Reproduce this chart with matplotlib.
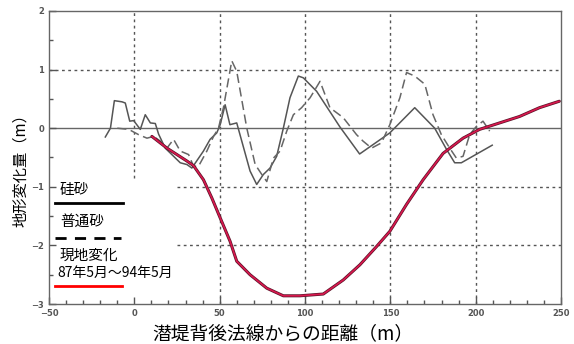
import matplotlib
matplotlib.use("Agg")
import matplotlib.pyplot as plt
from matplotlib.lines import Line2D

plt.rcParams['font.family'] = ['Noto Sans CJK JP', 'DejaVu Sans']

# 硅砂 (solid)
keisha_x = [-17, -14, -11.7, -7.2, -5.3, -2.7, -0.4, 3.5, 6.4, 9.4, 12.3, 14.2, 18.1, 26.9, 30.8, 33.7,
            40.5, 44.4, 48.3, 50.3, 53.2, 56, 60, 67.8, 71.7, 75.6, 79.5, 83.4, 87.3, 91.2, 96.1, 99,
            106.8, 120.5, 132, 149.7, 164.3, 176, 182.9, 187.7, 191.6, 209.7]
keisha_y = [-0.15, 0.0, 0.47, 0.45, 0.43, 0.12, 0.13, -0.02, 0.23, 0.09, 0.08, -0.1, -0.34, -0.59, -0.62, -0.68,
            -0.39, -0.19, -0.08, 0.06, 0.4, 0.06, 0.09, -0.73, -0.96, -0.79, -0.68, -0.48, 0.0, 0.52, 0.89, 0.86,
            0.63, 0.02, -0.44, -0.08, 0.35, 0.0, -0.36, -0.59, -0.59, -0.29]

# 普通砂 (dashed)
futsu_x = [-10, -3.3, 2.5, 7.4, 11.3, 15.2, 19.1, 23, 26.9, 31.8, 34.7, 37.6, 42.5, 46.4, 49.3, 52.2,
           57.1, 60, 65.9, 70.8, 74.7, 77.6, 81.5, 85.4, 89.3, 93.2, 98, 103, 108.8, 114.6, 122.4,
           130.2, 134, 139, 144.8, 149.7, 155.6, 159.5, 164.3, 170.2, 175, 179.9, 184.8, 188.7,
           192.6, 196.5, 200.4, 204.3, 208.2]
futsu_y = [0.0, -0.02, -0.11, -0.17, -0.14, -0.22, -0.34, -0.19, -0.39, -0.45, -0.65, -0.65, -0.39, -0.14, 0.0, 0.35,
           1.15, 0.97, 0.0, -0.62, -0.79, -0.91, -0.51, -0.39, -0.05, 0.23, 0.35, 0.52, 0.8, 0.35, 0.18,
           -0.11, -0.22, -0.34, -0.25, 0.06, 0.52, 0.95, 0.89, 0.75, 0.23, -0.11, -0.34, -0.51,
           -0.48, -0.11, 0.03, 0.12, -0.05]

# 現地変化 87年5月～94年5月
genchi_x = [10.3, 19.1, 30.8, 34.7, 40.5, 45.4, 50.3, 56.1, 60, 67.8, 77.6, 87.3, 97, 110.7, 122.4,
            132.2, 141.9, 149.7, 159.5, 169.2, 180.9, 192.6, 202.3, 214, 225.7, 237.4, 249]
genchi_y = [-0.14, -0.34, -0.56, -0.64, -0.88, -1.19, -1.53, -1.93, -2.27, -2.5, -2.73, -2.86, -2.86, -2.83, -2.59,
            -2.33, -2.02, -1.76, -1.3, -0.88, -0.43, -0.17, -0.02, 0.09, 0.2, 0.35, 0.46]

x_ticks = [-50, 0, 50, 100, 150, 200, 250]
y_ticks = [-3, -2, -1, 0, 1, 2]

fig = plt.figure(figsize=(5.74, 3.44), dpi=100)
ax = fig.add_axes([49/574, 1-304/344, 512/574, 293/344])
ax.set_xlim(-50, 250)
ax.set_ylim(-3, 2)

grid_kw = dict(color='#555555', lw=1.0, linestyle=(0, (2, 2.5)), zorder=1)
for gx in [50, 100, 150, 200]:
    ax.axvline(gx, **grid_kw)
ax.plot([0, 0], [-0.85, 2], **grid_kw)
ax.axhline(1, **grid_kw)
for gy in [-1, -2]:
    ax.plot([25, 250], [gy, gy], **grid_kw)
ax.axhline(0, color='#666666', lw=1.0, zorder=1)

ax.plot(keisha_x, keisha_y, color='#555555', lw=1.1, zorder=3)
ax.plot(futsu_x, futsu_y, color='#666666', lw=1.1, linestyle=(0, (6, 3)), zorder=3)
ax.plot(genchi_x, genchi_y, color='#5a1428', lw=2.2, zorder=4, solid_capstyle='round')
ax.plot(genchi_x, genchi_y, color='#d8184e', lw=1.2, zorder=5, solid_capstyle='round')

ax.set_xticks(x_ticks)
ax.set_yticks(y_ticks)
ax.set_xticks(range(-40, 250, 10), minor=True)
ax.set_yticks([-2.5, -1.5, -0.5, 0.5, 1.5], minor=True)
ax.tick_params(which='both', direction='in', color='#555555', labelsize=6, labelcolor='#555555')
ax.tick_params(which='major', length=5, width=1)
ax.tick_params(which='minor', length=3, width=1)
for lab in ax.get_xticklabels() + ax.get_yticklabels():
    lab.set_fontweight('bold')
    lab.set_family('DejaVu Sans')
for s in ax.spines.values():
    s.set_color('#666666')
    s.set_linewidth(1.0)

def fx(px):
    return px / 574
def fy(py):
    return 1 - py / 344

fig.text(fx(21), fy(167), '地形変化量（m）', fontsize=11, rotation=90, va='center', ha='center')
fig.text(fx(283), fy(334), '潜堤背後法線からの距離（m）', fontsize=13.5, va='center', ha='center')

# legend
fig.text(fx(60), fy(190), '硅砂', fontsize=10.5, va='center', ha='left')
fig.add_artist(Line2D([fx(55), fx(123)], [fy(203), fy(203)], color='black', lw=2))
fig.text(fx(60), fy(222), '普通砂', fontsize=10.5, va='center', ha='left')
fig.add_artist(Line2D([fx(55), fx(121)], [fy(238), fy(238)], color='black', lw=2, linestyle=(0, (4, 3))))
fig.text(fx(60), fy(256), '現地変化', fontsize=10.5, va='center', ha='left')
fig.text(fx(57), fy(273), '87年5月～94年5月', fontsize=10, va='center', ha='left')
fig.add_artist(Line2D([fx(55), fx(122)], [fy(286), fy(286)], color='red', lw=2))

fig.savefig('out.png', dpi=100)
